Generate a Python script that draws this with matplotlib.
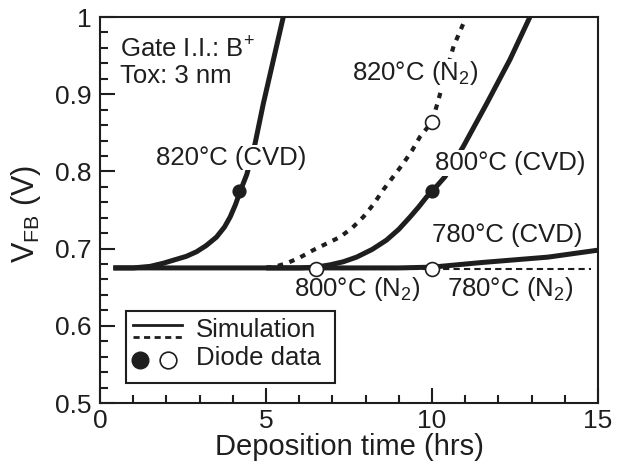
import matplotlib
matplotlib.use('Agg')
import matplotlib.pyplot as plt
from matplotlib.ticker import MultipleLocator
from matplotlib.patches import Rectangle
from matplotlib.lines import Line2D

plt.rcParams['font.family'] = ['Liberation Sans', 'DejaVu Sans']
plt.rcParams['mathtext.default'] = 'regular'

# simulation curves (hrs, V)
cvd820_t = [0.4, 1.0, 1.51, 1.9, 2.21, 2.6, 2.91, 3.2, 3.51, 3.75, 3.92, 4.08, 4.22,
            4.42, 4.67, 4.92, 5.22, 5.52]
cvd820_v = [0.675, 0.675, 0.677, 0.681, 0.685, 0.690, 0.696, 0.704, 0.715, 0.728,
            0.741, 0.757, 0.774, 0.796, 0.836, 0.888, 0.944, 1.0]
cvd800_t = [5.0, 6.0, 6.5, 6.93, 7.33, 7.73, 8.2, 8.63, 9.0, 9.34, 9.6, 9.84, 10.0,
            10.39, 10.94, 11.65, 12.35, 12.95]
cvd800_v = [0.675, 0.675, 0.676, 0.679, 0.683, 0.689, 0.699, 0.711, 0.725, 0.741,
            0.754, 0.767, 0.774, 0.793, 0.832, 0.888, 0.945, 1.0]
cvd780_t = [0.4, 6.0, 8.0, 9.0, 10.0, 11.5, 13.5, 15.0]
cvd780_v = [0.675, 0.675, 0.675, 0.675, 0.676, 0.682, 0.689, 0.698]
n2820_t = [5.0, 5.3, 5.62, 6.0, 6.42, 6.8, 7.23, 7.6, 7.93, 8.23, 8.53, 8.83, 9.13,
           9.4, 9.64, 10.0, 10.19, 10.42, 10.65, 10.95]
n2820_v = [0.675, 0.677, 0.681, 0.688, 0.698, 0.706, 0.715, 0.727, 0.741, 0.757,
           0.776, 0.793, 0.810, 0.827, 0.845, 0.864, 0.892, 0.928, 0.962, 0.992]
n2780_t = [5.0, 14.8]
n2780_v = [0.674, 0.674]

# diode data
filled_t = [4.2, 10.0]
filled_v = [0.775, 0.775]
open_t = [10.0, 6.5, 10.0]
open_v = [0.864, 0.674, 0.674]

ink = '#1e1e1e'

fig = plt.figure(figsize=(6.19, 4.65), dpi=100)
ax = fig.add_axes([0.1616, 0.1333, 0.8044, 0.8301])

ax.plot(n2780_t, n2780_v, color=ink, lw=1.5, ls=(0, (3.0, 2.0)), zorder=2)
ax.plot(cvd780_t, cvd780_v, color=ink, lw=3.6, solid_capstyle='butt', zorder=3)
ax.plot(cvd820_t, cvd820_v, color=ink, lw=3.6, solid_capstyle='butt', zorder=3)
ax.plot(cvd800_t, cvd800_v, color=ink, lw=3.6, solid_capstyle='butt', zorder=3)
ax.plot(n2820_t, n2820_v, color=ink, lw=3.0, ls=(0, (1.3, 1.6)), zorder=3)

ax.plot(filled_t, filled_v, 'o', ms=9, mfc=ink, mec=ink, mew=1.2, zorder=6)
ax.plot(open_t, open_v, 'o', ms=10, mfc='white', mec=ink, mew=1.2, zorder=6)

ax.set_xlim(0, 15)
ax.set_ylim(0.5, 1.0)
ax.xaxis.set_minor_locator(MultipleLocator(1))
ax.yaxis.set_minor_locator(MultipleLocator(0.02))
ax.set_yticks([0.5, 0.6, 0.7, 0.8, 0.9, 1.0])
ax.set_yticklabels(['0.5', '0.6', '0.7', '0.8', '0.9', '1'])
ax.set_xticks([0, 5, 10, 15])
ax.set_xticklabels(['0', '5', '10', '15'])
ax.tick_params(which='both', direction='in', top=False, right=False,
               labelsize=19, colors=ink, width=1.5)
ax.tick_params(which='major', length=11)
ax.tick_params(axis='x', which='major', pad=4)
ax.tick_params(axis='y', which='major', pad=6)
ax.tick_params(which='minor', length=6)
for s in ax.spines.values():
    s.set_linewidth(1.5)
    s.set_color(ink)

ax.set_xlabel('Deposition time (hrs)', fontsize=21, color=ink)
ax.set_ylabel('V$_{FB}$ (V)', fontsize=22, color=ink)
ax.xaxis.set_label_coords(0.5, -0.114)
ax.xaxis.label.set_va('center')
ax.yaxis.set_label_coords(-0.149, 0.49)
ax.yaxis.label.set_va('center')

box = dict(fc='white', ec='none', pad=0.5)
fs = 18.5
ax.text(0.6, 0.957, 'Gate I.I.: B$^{+}$', fontsize=fs, color=ink, va='center')
ax.text(0.6, 0.923, 'Tox: 3 nm', fontsize=fs, color=ink, va='center')
ax.text(1.7, 0.818, '820°C (CVD)', fontsize=fs, color=ink, va='center', bbox=box, zorder=4)
ax.text(7.6, 0.927, '820°C (N$_2$)', fontsize=fs, color=ink, va='center', bbox=box, zorder=4)
ax.text(10.1, 0.811, '800°C (CVD)', fontsize=fs, color=ink, va='center', bbox=box, zorder=4)
ax.text(10.0, 0.717, '780°C (CVD)', fontsize=fs, color=ink, va='center', bbox=box, zorder=4)
ax.text(5.85, 0.648, '800°C (N$_2$)', fontsize=fs, color=ink, va='center')
ax.text(10.45, 0.648, '780°C (N$_2$)', fontsize=fs, color=ink, va='center')

# legend box drawn by hand
ax.add_patch(Rectangle((0.052, 0.052), 0.42, 0.186, transform=ax.transAxes,
                       fc='white', ec=ink, lw=1.5, zorder=7))
ax.add_line(Line2D([0.066, 0.165], [0.202, 0.202], transform=ax.transAxes,
                   color=ink, lw=2.0, zorder=8))
ax.add_line(Line2D([0.066, 0.165], [0.171, 0.171], transform=ax.transAxes,
                   color=ink, lw=2.0, ls=(0, (2.2, 1.6)), zorder=8))
ax.plot([0.080], [0.111], 'o', ms=12, mfc=ink, mec=ink, transform=ax.transAxes, zorder=8)
ax.plot([0.137], [0.111], 'o', ms=12, mfc='white', mec=ink, mew=1.2,
        transform=ax.transAxes, zorder=8)
ax.text(0.193, 0.189, 'Simulation', fontsize=fs, color=ink, va='center',
        transform=ax.transAxes, zorder=8)
ax.text(0.193, 0.117, 'Diode data', fontsize=fs, color=ink, va='center',
        transform=ax.transAxes, zorder=8)

fig.savefig('out.png', dpi=100)
